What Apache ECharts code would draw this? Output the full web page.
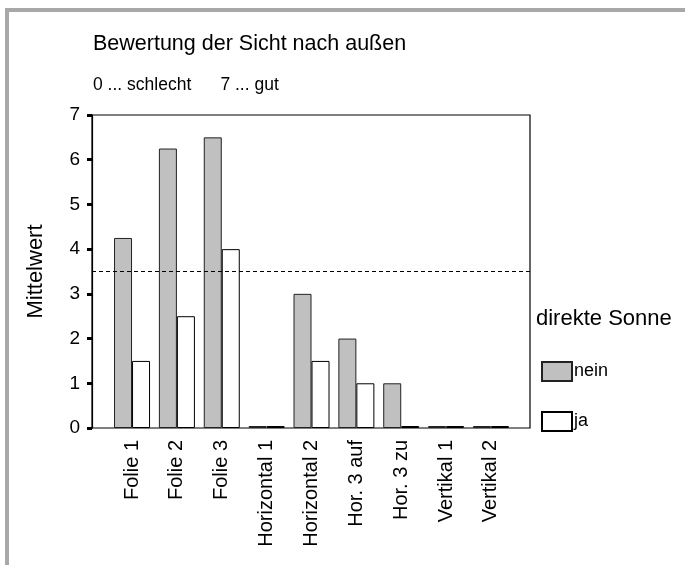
<!DOCTYPE html>
<html>
<head>
<meta charset="utf-8">
<script src="https://cdn.jsdelivr.net/npm/echarts@6/dist/echarts.min.js"></script>
<style>
html,body{margin:0;padding:0;background:#fff;}
#c{width:685px;height:565px;}
</style>
</head>
<body>
<div id="c"></div>
<script>
var categories = ['Folie 1','Folie 2','Folie 3','Horizontal 1','Horizontal 2','Hor. 3 auf','Hor. 3 zu','Vertikal 1','Vertikal 2'];
var neinValues = [4.25, 6.25, 6.5, 0, 3, 2, 1, 0, 0];
var jaValues = [1.5, 2.5, 4, 0, 1.5, 1, 0, 0, 0];
var referenceLine = [[0, 3.5], [1, 3.5]];
var yTicks = [0, 1, 2, 3, 4, 5, 6, 7];

var FONT = 'Arial, "Liberation Sans", sans-serif';
var chart = echarts.init(document.getElementById('c'), null, {renderer: 'canvas'});
chart.setOption({
  backgroundColor: '#ffffff',
  animation: false,
  textStyle: {fontFamily: FONT, color: '#000'},
  graphic: [
    {type: 'rect', shape: {x: 5, y: 8, width: 680, height: 4}, style: {fill: '#a8a8a8'}, silent: true},
    {type: 'rect', shape: {x: 5, y: 8, width: 4, height: 557}, style: {fill: '#a8a8a8'}, silent: true},
    {type: 'text', left: 93, top: 33, style: {text: 'Bewertung der Sicht nach außen', font: '21.5px ' + FONT, fill: '#000'}},
    {type: 'text', left: 93, top: 76, style: {text: '0 ... schlecht      7 ... gut', font: '17.5px ' + FONT, fill: '#000'}},
    {type: 'text', left: 536, top: 308, style: {text: 'direkte Sonne', font: '22px ' + FONT, fill: '#000'}}
  ],
  legend: {
    data: ['nein', 'ja'],
    orient: 'vertical',
    left: 541,
    top: 361,
    padding: 0,
    itemWidth: 30,
    itemHeight: 19,
    itemGap: 29,
    icon: 'rect',
    selectedMode: false,
    textStyle: {fontSize: 18, color: '#000', fontFamily: FONT, padding: [0, 0, 0, -3]}
  },
  grid: [
    {left: 92, top: 115, width: 438, height: 313, show: true, borderColor: '#000', borderWidth: 1.2, backgroundColor: '#fff'},
    {left: 109.6, top: 115, width: 403.8, height: 313}
  ],
  xAxis: [
    {gridIndex: 0, type: 'value', min: 0, max: 1, show: false},
    {gridIndex: 1, type: 'category', data: categories,
      axisLine: {show: false}, axisTick: {show: false},
      axisLabel: {rotate: 90, margin: 12, fontSize: 20, color: '#000', fontFamily: FONT}}
  ],
  yAxis: [
    {gridIndex: 0, type: 'value', min: 0, max: 7, interval: 1,
      name: 'Mittelwert', nameLocation: 'middle', nameGap: 45,
      nameTextStyle: {fontSize: 22, color: '#000', fontFamily: FONT},
      axisLine: {show: true, lineStyle: {color: '#000', width: 1.2}},
      axisTick: {show: true, length: 5, lineStyle: {color: '#000', width: 3}},
      axisLabel: {margin: 12, fontSize: 19, color: '#000', fontFamily: FONT},
      splitLine: {show: false}},
    {gridIndex: 1, type: 'value', min: 0, max: 7, interval: 1, show: false, splitLine: {show: false}}
  ],
  series: [
    {name: 'ref', type: 'line', xAxisIndex: 0, yAxisIndex: 0, data: referenceLine,
      symbol: 'none', silent: true,
      lineStyle: {color: '#000', width: 1, type: [4, 3]}},
    {name: 'nein', type: 'bar', xAxisIndex: 1, yAxisIndex: 1, data: neinValues,
      barWidth: 18, barGap: '0%', barMinHeight: 2,
      itemStyle: {color: '#c0c0c0', borderColor: '#222', borderWidth: 1}},
    {name: 'ja', type: 'bar', xAxisIndex: 1, yAxisIndex: 1, data: jaValues,
      barWidth: 18, barGap: '0%', barMinHeight: 2,
      itemStyle: {color: '#ffffff', borderColor: '#000', borderWidth: 1}}
  ]
});
</script>
</body>
</html>
